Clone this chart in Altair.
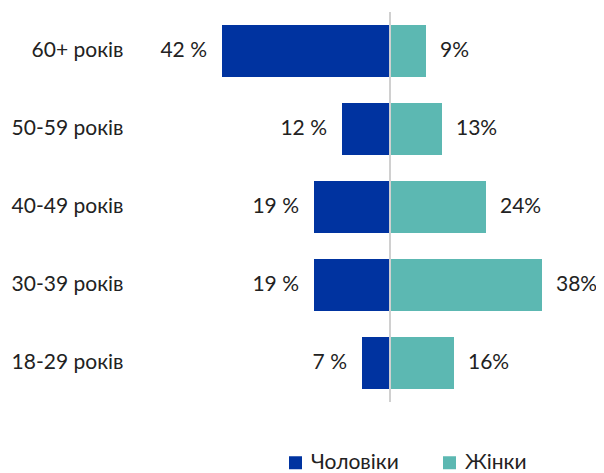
import altair as alt
import pandas as pd

categories = ["60+ років", "50-59 років", "40-49 років", "30-39 років", "18-29 років"]
men = [42, 12, 19, 19, 7]
women = [9, 13, 24, 38, 16]
genders = ["Чоловіки", "Жінки"]
colors = ["#0033A0", "#5CB8B2"]

rows = []
for c, m, w in zip(categories, men, women):
    rows.append({"cat": c, "gender": genders[0], "value": m, "x": -m, "label": f"{m} %"})
    rows.append({"cat": c, "gender": genders[1], "value": w, "x": w, "label": f"{w}%"})
df = pd.DataFrame(rows)

FONT = "Lato"
FS = 21
FW = 400
TXT = "#222222"
xscale = alt.Scale(domain=[-62.5, 51], nice=False, zero=False)
yscale = alt.Scale(domain=categories, paddingInner=1/3, paddingOuter=1/6)
yaxis = alt.Axis(ticks=False, domain=False, labelFontSize=FS, labelFont=FONT,
                 labelFontWeight=FW, labelColor=TXT, labelPadding=17, grid=False)
Y = alt.Y("cat:N", scale=yscale, sort=categories, title=None, axis=yaxis)
X = alt.X("x:Q", scale=xscale, axis=None)

base = alt.Chart(df)

bars = base.mark_bar().encode(
    x=X,
    x2=alt.datum(0),
    y=Y,
    color=alt.Color("gender:N", scale=alt.Scale(domain=genders, range=colors),
                    legend=alt.Legend(title=None, orient="none", direction="horizontal",
                                      legendX=145, legendY=440, symbolType="square",
                                      symbolSize=169, symbolStrokeWidth=0,
                                      labelFontSize=FS, labelFont=FONT, labelFontWeight=FW,
                                      labelColor=TXT, labelOffset=5, columnPadding=40)),
)

zero = alt.Chart(pd.DataFrame({"z": [0]})).mark_rule(color="#d0d0d0", strokeWidth=2).encode(
    x=alt.X("z:Q", scale=xscale, axis=None)
)

men_text = base.transform_filter(alt.datum.gender == genders[0]).mark_text(
    align="right", baseline="middle", dx=-15, fontSize=FS, font=FONT, fontWeight=FW, color=TXT
).encode(x=X, y=Y, text="label:N")

women_text = base.transform_filter(alt.datum.gender == genders[1]).mark_text(
    align="left", baseline="middle", dx=14, fontSize=FS, font=FONT, fontWeight=FW, color=TXT
).encode(x=X, y=Y, text="label:N")

chart = alt.layer(bars, zero, men_text, women_text).properties(
    width=454, height=390,
    background="white",
    autosize=alt.AutoSizeParams(type="none"),
    padding={"left": 132, "top": 4, "right": 2, "bottom": 70},
).configure_view(stroke=None)

chart.save("out.html", embed_options={"renderer": "svg", "actions": False})
